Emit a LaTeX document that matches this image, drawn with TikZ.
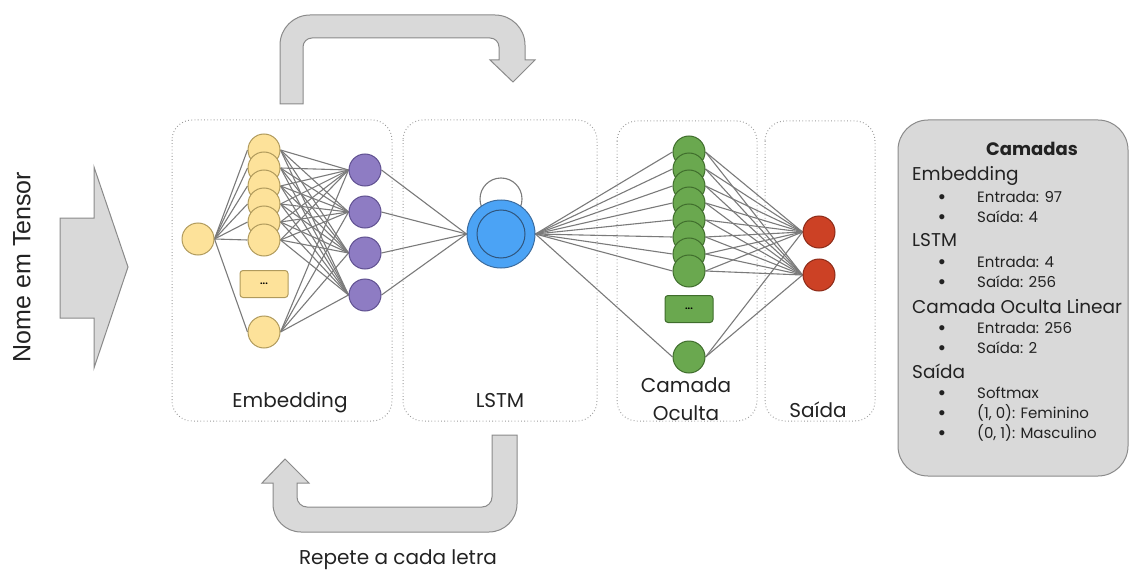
\documentclass[tikz,border=0pt]{standalone}
\usepackage{fontspec}
\setmainfont{Poppins}
\newfontfamily\arialf{Liberation Sans}
\usetikzlibrary{backgrounds}
\definecolor{yfill}{HTML}{FDE29A}
\definecolor{ydraw}{HTML}{B09A5C}
\definecolor{pfill}{HTML}{8E7CC3}
\definecolor{pdraw}{HTML}{5F5090}
\definecolor{bfill}{HTML}{4BA3F5}
\definecolor{bdraw}{HTML}{3C6C9E}
\definecolor{gfill}{HTML}{6AA84F}
\definecolor{gdraw}{HTML}{3F6D2C}
\definecolor{rfill}{HTML}{CC4125}
\definecolor{rdraw}{HTML}{8C2B18}
\definecolor{arrfill}{HTML}{D9D9D9}
\definecolor{arrdraw}{HTML}{8A8A8A}
\definecolor{edgecol}{HTML}{7A7A7A}
\definecolor{txt}{HTML}{222222}
\begin{document}
\begin{tikzpicture}[x=1pt,y=-1pt,
  neuron/.style={circle, minimum size=32pt, inner sep=0pt, line width=1pt},
  yneu/.style={neuron, fill=yfill, draw=ydraw},
  pneu/.style={neuron, fill=pfill, draw=pdraw},
  gneu/.style={neuron, fill=gfill, draw=gdraw},
  rneu/.style={neuron, fill=rfill, draw=rdraw},
  dotbox/.style={rectangle, rounded corners=3pt, minimum width=48pt, minimum height=27pt, inner sep=0pt, line width=1pt, font=\fontsize{9}{9}\selectfont\bfseries},
  conn/.style={draw=edgecol, line width=1.1pt},
  layerbox/.style={draw=black!40, line width=1pt, dash pattern=on 0.8pt off 2.4pt, rounded corners=20pt},
  bigarrow/.style={fill=arrfill, draw=arrdraw, line width=1pt},
  lbl/.style={text=txt, font=\fontsize{20}{22}\selectfont, inner sep=0pt, anchor=base},
  lhead/.style={text=txt, font=\fontsize{18.5}{20}\selectfont, inner sep=0pt, anchor=base west},
  litem/.style={text=txt, font=\fontsize{15}{16}\selectfont, inner sep=0pt, anchor=base west},
  lbul/.style={text=txt, font=\arialf\fontsize{19}{20}\selectfont, inner sep=0pt, anchor=base}
]
\useasboundingbox (0,0) rectangle (1131,572);

% layer boxes
\draw[layerbox] (172,120) rectangle (392,421);
\draw[layerbox] (403,120) rectangle (597,421);
\draw[layerbox] (617,121) rectangle (757,421);
\draw[layerbox] (765,121) rectangle (875,421);

% input arrow
\draw[bigarrow] (60,218) -- (94,218) -- (94,167) -- (128,267) -- (94,368) -- (94,318) -- (60,318) -- cycle;
\node[text=txt, font=\arialf\fontsize{25}{26}\selectfont, inner sep=0pt, rotate=90] (nome) at (22,267) {Nome em Tensor};

% top arrow
\draw[bigarrow] (280,104) [rounded corners=30pt] -- (280,15) -- (525,15) [sharp corners] -- (525,60) -- (535,60) -- (513,82) -- (490,60) -- (499,60) [rounded corners=9pt] -- (499,38) -- (303,38) [sharp corners] -- (303,104) -- cycle;

% bottom arrow
\draw[bigarrow] (517,435) [rounded corners=28pt] -- (517,532) -- (273,532) [sharp corners] -- (273,483) -- (262,483) -- (285,459) -- (309,483) -- (297,483) [rounded corners=10pt] -- (297,507) -- (492,507) [sharp corners] -- (492,435) -- cycle;
\node[lbl] (rep) at (398,564) {Repete a cada letra};

% embedding nodes
\node[yneu] (in) at (198,239) {};
\foreach \k in {1,...,6} {
  \node[yneu] (y\k) at (264,{150+18*(\k-1)}) {};
}
\node[dotbox, fill=yfill, draw=ydraw] (ydots) at (264,284) {...};
\node[yneu] (y7) at (264,332) {};
\node[pneu] (p1) at (365,170) {};
\node[pneu] (p2) at (365,212) {};
\node[pneu] (p3) at (365,253) {};
\node[pneu] (p4) at (365,295) {};

% LSTM
\node[circle, minimum size=68pt, inner sep=0pt, fill=bfill, draw=bdraw, line width=1pt] (lstm) at (501,234) {};
\node[circle, minimum size=48pt, inner sep=0pt, draw=bdraw!80!black, line width=1pt] (lstmin) at (lstm.center) {};

% hidden
\foreach \k in {1,...,8} {
  \node[gneu] (g\k) at (689,{152+17*(\k-1)}) {};
}
\node[dotbox, fill=gfill, draw=gdraw] (gdots) at (689,309) {...};
\node[gneu] (g9) at (689,357) {};

% output
\node[rneu] (r1) at (819,232) {};
\node[rneu] (r2) at (819,275) {};

% connections
\begin{scope}[on background layer]
  \draw[draw=edgecol, line width=1.1pt] (501,199) circle (21pt);
  \foreach \k in {1,...,7} {
    \draw[conn] (in.east) -- (y\k.west);
    \foreach \p in {1,...,4} {
      \draw[conn] (y\k.east) -- (p\p.west);
    }
  }
  \foreach \p in {1,...,4} {
    \draw[conn] (p\p.east) -- (lstm.west);
  }
  \foreach \k in {1,...,9} {
    \draw[conn] (lstm.east) -- (g\k.west);
    \foreach \r in {1,2} {
      \draw[conn] (g\k.east) -- (r\r.west);
    }
  }
\end{scope}

% labels
\node[lbl] (lemb) at (290,407) {Embedding};
\node[lbl] (llstm) at (500,407) {LSTM};
\node[lbl] (lcam) at (686,392) {Camada};
\node[lbl] (locu) at (686,420) {Oculta};
\node[lbl] (lsai) at (818,417) {Saída};

% legend
\node[draw=arrdraw, fill=arrfill, line width=1pt, rounded corners=30pt, minimum width=230pt, minimum height=356pt, inner sep=0pt] (legend) at (1013,298) {};
\node[text=txt, font=\fontsize{18}{18}\selectfont\bfseries, inner sep=0pt, anchor=base] (ltitle) at (1032,156) {Camadas};
\node[lhead] (h1) at (912,181) {Embedding};
\node[lbul] (b1) at (942,203) {•};
\node[litem] (t1) at (977,202) {Entrada: 97};
\node[lbul] (b2) at (942,223) {•};
\node[litem] (t2) at (977,222) {Saída: 4};
\node[lhead] (h2) at (912,246) {LSTM};
\node[lbul] (b3) at (942,268) {•};
\node[litem] (t3) at (977,267) {Entrada: 4};
\node[lbul] (b4) at (942,288) {•};
\node[litem] (t4) at (977,287) {Saída: 256};
\node[lhead] (h3) at (912,313) {Camada Oculta Linear};
\node[lbul] (b5) at (942,334) {•};
\node[litem] (t5) at (977,333) {Entrada: 256};
\node[lbul] (b6) at (942,354) {•};
\node[litem] (t6) at (977,353) {Saída: 2};
\node[lhead] (h4) at (912,378) {Saída};
\node[lbul] (b7) at (942,399) {•};
\node[litem] (t7) at (977,398) {Softmax};
\node[lbul] (b8) at (942,419) {•};
\node[litem] (t8) at (977,418) {(1, 0): Feminino};
\node[lbul] (b9) at (942,439) {•};
\node[litem] (t9) at (977,438) {(0, 1): Masculino};
\end{tikzpicture}
\end{document}
